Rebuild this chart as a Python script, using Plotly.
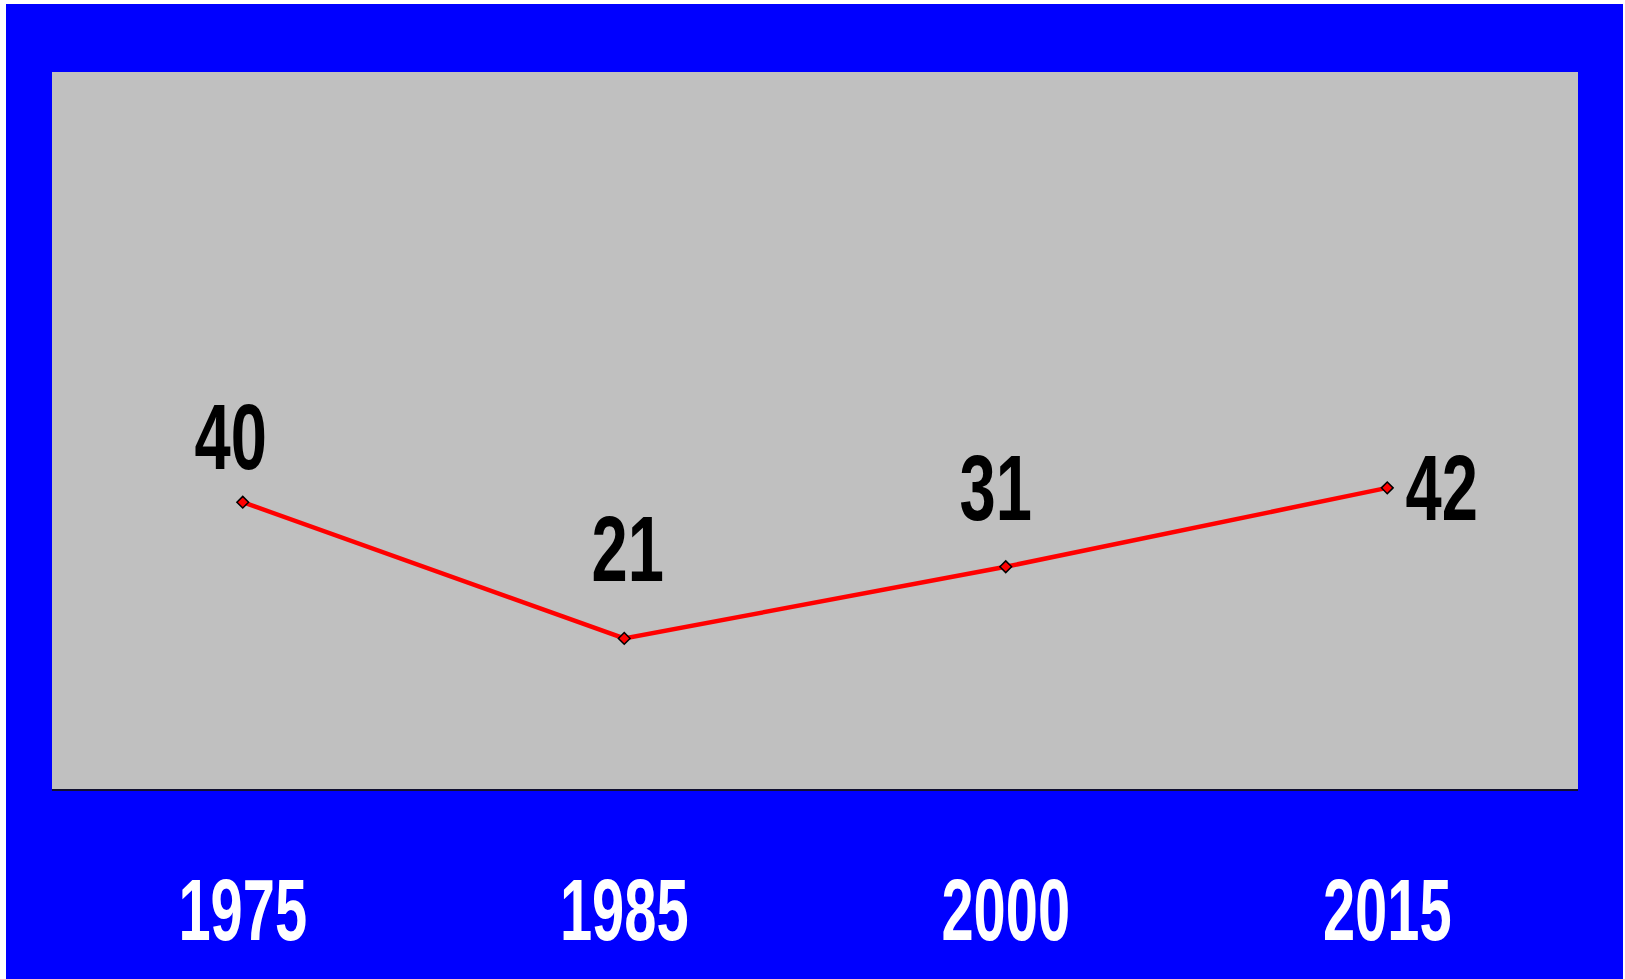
import plotly.graph_objects as go

years = ["1975", "1985", "2000", "2015"]
values = [40, 21, 31, 42]

W, H = 1625, 979
L, R, T, B = 52, 1625 - 1578, 72, 979 - 789
pw, ph = W - L - R, H - T - B

FONT = "Liberation Sans, Arial, sans-serif"

fig = go.Figure()
fig.add_trace(go.Scatter(
    x=years, y=values, mode="lines+markers",
    line=dict(color="#ff0000", width=4.5),
    marker=dict(symbol="diamond", size=9, color="#ff0000",
                line=dict(color="#000000", width=1.5)),
    hoverinfo="x+y", showlegend=False, cliponaxis=False,
))

# label offsets (px): (xshift, yshift)
offsets = [(-12, 65), (3, 89), (-10, 79), (54, 0)]
for i, (v, (dx, dy)) in enumerate(zip(values, offsets)):
    fig.add_annotation(x=i, y=v, text=f"<b>{v}</b>", showarrow=False,
                       xshift=dx, yshift=dy,
                       font=dict(family=FONT, size=93, color="#000000"))

shapes = [
    # white edges
    dict(type="rect", xref="paper", yref="paper",
         x0=(0 - L) / pw, x1=(6 - L) / pw, y0=-B / ph, y1=(H - B) / ph,
         fillcolor="white", line=dict(width=0), layer="above"),
    dict(type="rect", xref="paper", yref="paper",
         x0=(0 - L) / pw, x1=(W - L) / pw, y0=(H - B - 4) / ph, y1=(H - B) / ph,
         fillcolor="white", line=dict(width=0), layer="above"),
    dict(type="rect", xref="paper", yref="paper",
         x0=(1623 - L) / pw, x1=(W - L) / pw, y0=-B / ph, y1=(H - B) / ph,
         fillcolor="white", line=dict(width=0), layer="above"),
]

fig.update_layout(
    width=W, height=H,
    margin=dict(l=L, r=R, t=T, b=B, pad=0),
    paper_bgcolor="#0000ff", plot_bgcolor="#c0c0c0",
    shapes=shapes,
    xaxis=dict(type="category", range=[-0.5, 3.5], showgrid=False, zeroline=False,
               showline=True, linecolor="#101030", linewidth=2, ticks="",
               tickfont=dict(family=FONT, size=87, color="#ffffff"),
               ticklabelstandoff=45, tickprefix="<b>", ticksuffix="</b>"),
    yaxis=dict(range=[0, 100], showgrid=False, zeroline=False, showline=False,
               showticklabels=False, ticks=""),
)

# page without default body margin; condense the bold labels horizontally
post = """
document.body.style.margin='0';
document.body.style.overflow='hidden';
function squeeze(sel, s){
  document.querySelectorAll(sel).forEach(function(t){
    var b = t.getBBox(); var cx = b.x + b.width/2;
    var tr = t.getAttribute('transform') || '';
    t.setAttribute('transform', tr + ' translate(' + cx + ',0) scale(' + s + ',1) translate(' + (-cx) + ',0)');
  });
}
squeeze('.xtick text', 0.665);
squeeze('.annotation-text', 0.70);
"""

fig.write_html("out.html", post_script=post, config={"displayModeBar": False})
